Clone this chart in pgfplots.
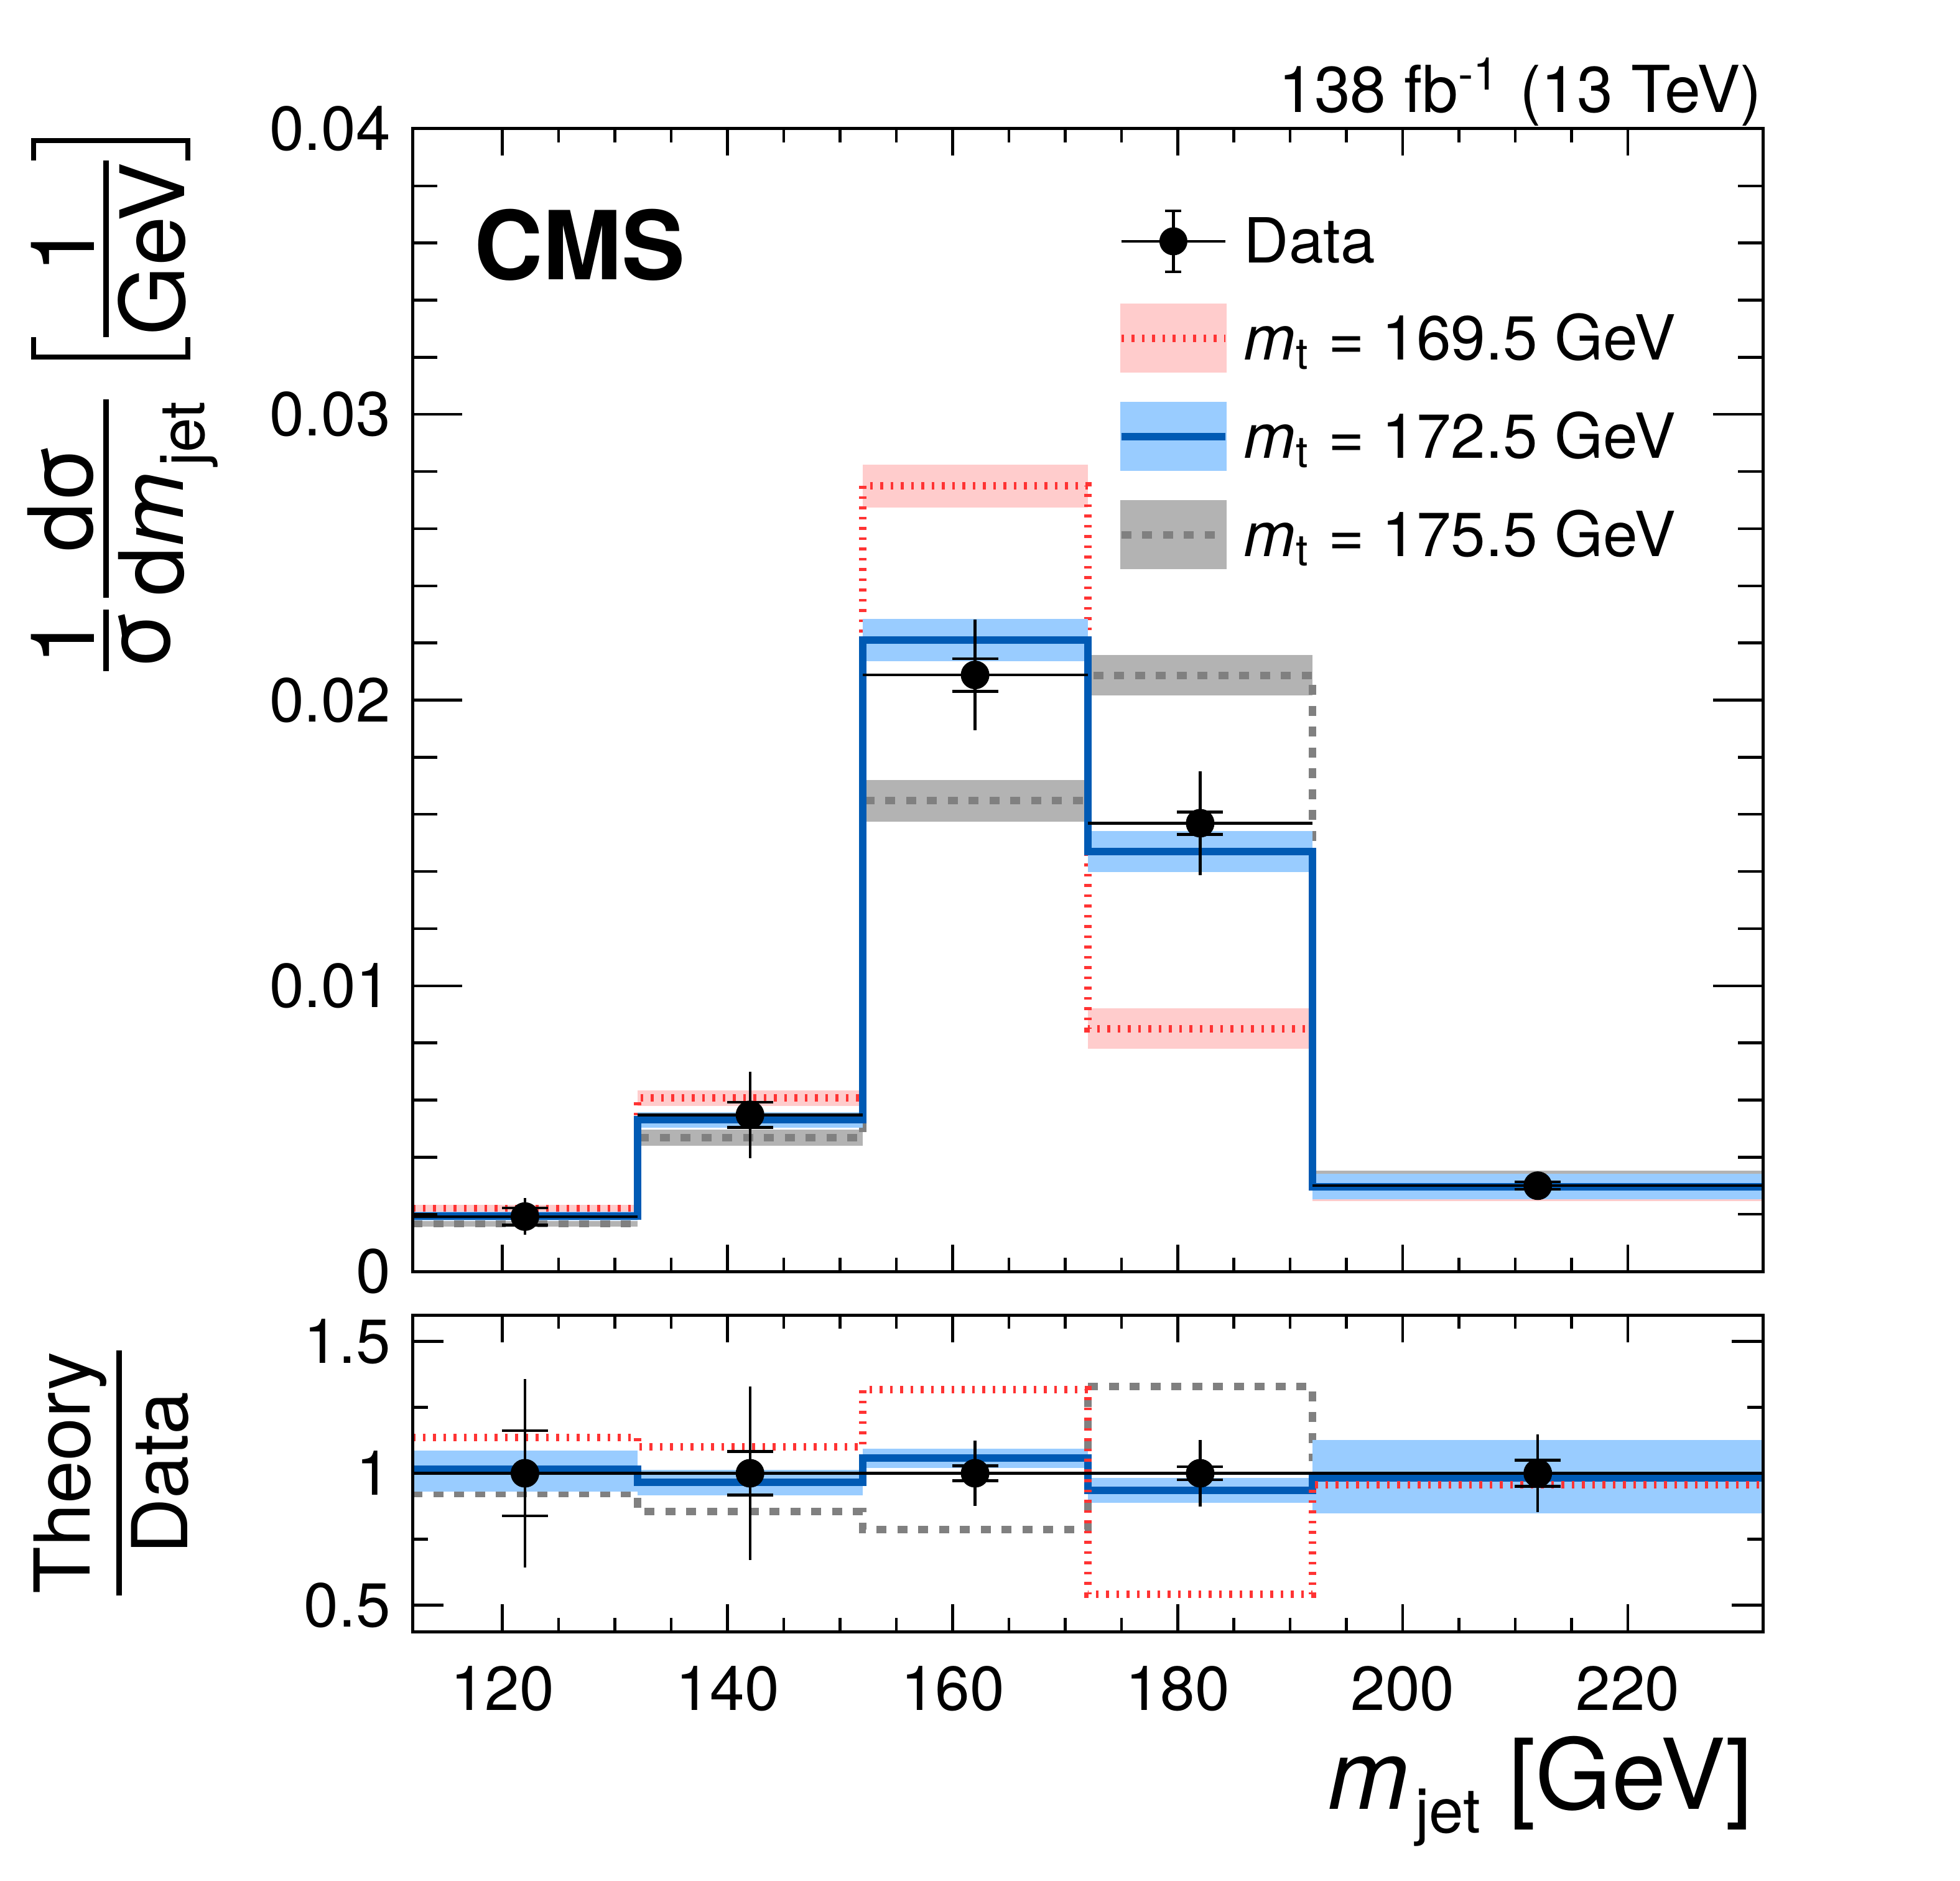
\documentclass[border=0pt]{standalone}
\usepackage{fontspec}
\setmainfont{TeX Gyre Heros}
\usepackage{pgfplots}
\usepackage{pgfplotstable}
\pgfplotsset{compat=1.18}

\definecolor{redline}{RGB}{255,51,51}
\definecolor{redband}{RGB}{255,204,204}
\definecolor{blueline}{RGB}{0,90,180}
\definecolor{blueband}{RGB}{153,204,255}
\definecolor{grayline}{RGB}{128,128,128}
\definecolor{grayband}{RGB}{179,179,179}

\tikzset{
  mtlow/.style={color=redline, line width=1.2pt, dash pattern=on 0.45pt off 1.2pt},
  mtnom/.style={color=blueline, line width=1.2pt},
  mthigh/.style={color=grayline, line width=1.2pt, dash pattern=on 1.6pt off 1.75pt},
}

% one uncertainty box per bin: colour, left edge, right edge, lower, upper
\newcommand{\band}[5]{\addplot[fill=#1, draw=none, forget plot] coordinates {(#2,#4) (#3,#4) (#3,#5) (#2,#5)};}

% text fraction with its bar 2.8pt above the baseline
\newcommand{\fr}[2]{%
  \begingroup
  \setbox0=\hbox{#1}\setbox2=\hbox{#2}%
  \dimen0=\wd0 \ifdim\wd2>\dimen0 \dimen0=\wd2 \fi
  \advance\dimen0 by 0.6pt
  \raise2.8pt\hbox{%
    \rlap{\hbox to\dimen0{\hss\raise\dimexpr\dp0+1.9pt\relax\box0\hss}}%
    \rlap{\hbox to\dimen0{\hss\lower\dimexpr\ht2+2pt\relax\box2\hss}}%
    \vrule height0.45pt depth0.45pt width\dimen0}%
  \endgroup}
% square brackets drawn from rules
\newcommand{\lbrk}{\hbox{\vrule width0.8pt height14.8pt depth10.8pt%
  \rlap{\raise14pt\hbox{\vrule width2.8pt height0.8pt depth0pt}}%
  \rlap{\lower10.8pt\hbox{\vrule width2.8pt height0.8pt depth0pt}}\kern2.8pt}}
\newcommand{\rbrk}{\hbox{\kern2.8pt%
  \llap{\raise14pt\hbox{\vrule width2.8pt height0.8pt depth0pt}}%
  \llap{\lower10.8pt\hbox{\vrule width2.8pt height0.8pt depth0pt}}%
  \vrule width0.8pt height14.8pt depth10.8pt}}
\newcommand{\mjet}[1]{\textit{m}\raisebox{-#1}{\fontsize{10}{12}\selectfont\hspace{1pt}jet}}

% unfolded data: bin centre, value, half bin width, total and statistical uncertainty
\pgfplotstableread{
x   y       ex  et      es
122 0.00192 10  0.00064 0.00030
142 0.00548 10  0.00152 0.00044
162 0.02088 10  0.00194 0.00057
182 0.01569 10  0.00182 0.00039
212 0.00300 20  0.00012 0.00013
}\datamain

\pgfplotstableread{
x   y  ex  et     es
122 1  10  0.358  0.162
142 1  10  0.328  0.083
162 1  10  0.124  0.028
182 1  10  0.125  0.025
212 1  20  0.147  0.049
}\dataratio

\pgfplotsset{
  cmsframe/.style={
    scale only axis, width=217.1pt,
    xmin=112, xmax=232,
    axis on top,
    axis line style={line width=0.5pt},
    tick pos=both, tick align=inside,
    xtick={120,140,...,220}, minor x tick num=3,
    tick style={line width=0.45pt, black},
    xticklabel pos=left, yticklabel pos=left,
    tick label style={font=\fontsize{10}{12}\selectfont},
    /pgf/number format/assume math mode=true,
    scaled ticks=false,
    clip mode=individual,
  },
}

\begin{document}
\begin{tikzpicture}
\path[use as bounding box] (0pt,0pt) rectangle (315.1pt,302.3pt);

% ---------------- upper panel: normalised cross section ----------------
\begin{axis}[cmsframe,
  at={(66.3pt,97.9pt)}, anchor=south west, height=183.7pt,
  ymin=0, ymax=0.04,
  ytick={0,0.01,0.02,0.03,0.04}, yticklabels={0,0.01,0.02,0.03,0.04},
  minor y tick num=4,
  xticklabels={},
  xtick style={/pgfplots/major tick length=4.3pt, /pgfplots/minor tick length=2.2pt},
  ytick style={/pgfplots/major tick length=8pt, /pgfplots/minor tick length=4pt},
  legend style={at={(0.5223,0.9306)}, anchor=north west, draw=none, fill=none,
    inner sep=0pt, outer sep=0pt, row sep=4.7pt, column sep=2.4pt,
    font=\fontsize{10}{12}\selectfont,
    nodes={inner sep=0pt, text height=7pt, text depth=0pt}},
  legend cell align=left,
]
% m_t = 169.5 GeV band
\band{redband}{112}{132}{0.00207}{0.00233}
\band{redband}{132}{152}{0.00580}{0.00634}
\band{redband}{152}{172}{0.02675}{0.02825}
\band{redband}{172}{192}{0.00780}{0.00920}
\band{redband}{192}{232}{0.00245}{0.00335}
% m_t = 175.5 GeV band
\band{grayband}{112}{132}{0.00157}{0.00177}
\band{grayband}{132}{152}{0.00440}{0.00496}
\band{grayband}{152}{172}{0.01575}{0.01721}
\band{grayband}{172}{192}{0.02017}{0.02157}
\band{grayband}{192}{232}{0.00283}{0.00353}
\addplot[mthigh, const plot, forget plot] coordinates {(112,0.00167) (132,0.00468) (152,0.01648) (172,0.02087) (192,0.00318) (232,0.00318)};
\addplot[mtlow, const plot, forget plot] coordinates {(112,0.00220) (132,0.00607) (152,0.02750) (172,0.00850) (192,0.00290) (232,0.00290)};
% m_t = 172.5 GeV band
\band{blueband}{112}{132}{0.00178}{0.00208}
\band{blueband}{132}{152}{0.00504}{0.00558}
\band{blueband}{152}{172}{0.02136}{0.02284}
\band{blueband}{172}{192}{0.01397}{0.01541}
\band{blueband}{192}{232}{0.00252}{0.00342}
\addplot[mtnom, const plot, forget plot] coordinates {(112,0.00193) (132,0.00531) (152,0.02210) (172,0.01469) (192,0.00297) (232,0.00297)};
% data: total uncertainty and bin width
\addplot[black, only marks, mark=none, forget plot,
  error bars/.cd, x dir=both, x explicit, y dir=both, y explicit, error mark=none,
  error bar style={line width=0.45pt, black}]
  table[x=x, y=y, x error=ex, y error=et] {\datamain};
% data: statistical uncertainty and points
\addplot[black, only marks, mark=*, mark size=2.1pt, forget plot,
  error bars/.cd, y dir=both, y explicit,
  error bar style={line width=0.45pt, black},
  error mark options={rotate=90, mark size=3.7pt, line width=0.45pt, black}]
  table[x=x, y=y, y error=es] {\datamain};

\addlegendimage{legend image code/.code={
  \path[draw=none, fill=none] (0pt,-5.35pt) rectangle (16.7pt,5.35pt);
  \draw[black, line width=0.45pt] (0pt,0pt) -- (16.7pt,0pt) (8.35pt,-4.9pt) -- (8.35pt,4.9pt)
     (7.05pt,-4.9pt) -- (9.65pt,-4.9pt) (7.05pt,4.9pt) -- (9.65pt,4.9pt);
  \fill[black] (8.35pt,0pt) circle (2.05pt);}}
\addlegendentry{Data}
\addlegendimage{legend image code/.code={
  \fill[redband] (0pt,-5.35pt) rectangle (16.7pt,5.35pt);
  \draw[mtlow] (0pt,0pt) -- (16.7pt,0pt);}}
\addlegendentry{\textit{m}\textsubscript{t} = 169.5 GeV}
\addlegendimage{legend image code/.code={
  \fill[blueband] (0pt,-5.35pt) rectangle (16.7pt,5.35pt);
  \draw[mtnom] (0pt,0pt) -- (16.7pt,0pt);}}
\addlegendentry{\textit{m}\textsubscript{t} = 172.5 GeV}
\addlegendimage{legend image code/.code={
  \fill[grayband] (0pt,-5.35pt) rectangle (16.7pt,5.35pt);
  \draw[mthigh] (0pt,0pt) -- (16.7pt,0pt);}}
\addlegendentry{\textit{m}\textsubscript{t} = 175.5 GeV}
\end{axis}

% ---------------- lower panel: theory / data ----------------
\begin{axis}[cmsframe,
  at={(66.3pt,40pt)}, anchor=south west, height=50.9pt,
  ymin=0.4, ymax=1.6,
  ytick={0.5,1,1.5}, yticklabels={0.5,1,1.5},
  minor y tick num=1,
  xticklabels={120,140,160,180,200,220},
  xticklabel style={yshift=-2pt},
  xtick style={/pgfplots/major tick length=4.4pt, /pgfplots/minor tick length=2.2pt},
  ytick style={/pgfplots/major tick length=5pt, /pgfplots/minor tick length=2.5pt},
]
\addplot[mthigh, const plot] coordinates {(112,0.923) (132,0.855) (152,0.787) (172,1.328) (192,1.060) (232,1.060)};
\band{blueband}{112}{132}{0.930}{1.085}
\band{blueband}{132}{152}{0.917}{1.014}
\band{blueband}{152}{172}{1.019}{1.093}
\band{blueband}{172}{192}{0.888}{0.982}
\band{blueband}{192}{232}{0.847}{1.126}
\addplot[mtnom, const plot] coordinates {(112,1.015) (132,0.967) (152,1.057) (172,0.935) (192,0.983) (232,0.983)};
\addplot[mtlow, const plot] coordinates {(112,1.135) (132,1.100) (152,1.317) (172,0.542) (192,0.956) (232,0.956)};
\addplot[black, only marks, mark=none,
  error bars/.cd, x dir=both, x explicit, y dir=both, y explicit, error mark=none,
  error bar style={line width=0.45pt, black}]
  table[x=x, y=y, x error=ex, y error=et] {\dataratio};
\addplot[black, only marks, mark=*, mark size=2.1pt,
  error bars/.cd, y dir=both, y explicit,
  error bar style={line width=0.45pt, black},
  error mark options={rotate=90, mark size=3.7pt, line width=0.45pt, black}]
  table[x=x, y=y, y error=es] {\dataratio};
\end{axis}

% ---------------- labels ----------------
\node[anchor=base west, inner sep=0pt, font=\fontsize{15.3}{18}\selectfont\bfseries] at (76pt,257.3pt) {CMS};
\node[anchor=base east, inner sep=0pt, font=\fontsize{10.4}{12}\selectfont] at (283.4pt,284.2pt) {138 fb\textsuperscript{-1} (13 TeV)};
\node[anchor=base east, inner sep=0pt, font=\fontsize{15.7}{18}\selectfont] at (282pt,11.5pt) {\mjet{3.8pt}\hspace{4.5pt}[GeV]};
\node[rotate=90, anchor=base east, inner sep=0pt, font=\fontsize{14.3}{15}\selectfont] at (19.8pt,280.3pt)
  {\fr{1}{σ}\kern1.9pt\fr{dσ}{d\mjet{3.4pt}}\kern6.4pt\lbrk\fr{1}{GeV}\rbrk};
\node[rotate=90, anchor=base, inner sep=0pt, font=\fontsize{12.4}{15}\selectfont] at (21.9pt,65.5pt)
  {\fr{Theory}{Data}};
\end{tikzpicture}
\end{document}
